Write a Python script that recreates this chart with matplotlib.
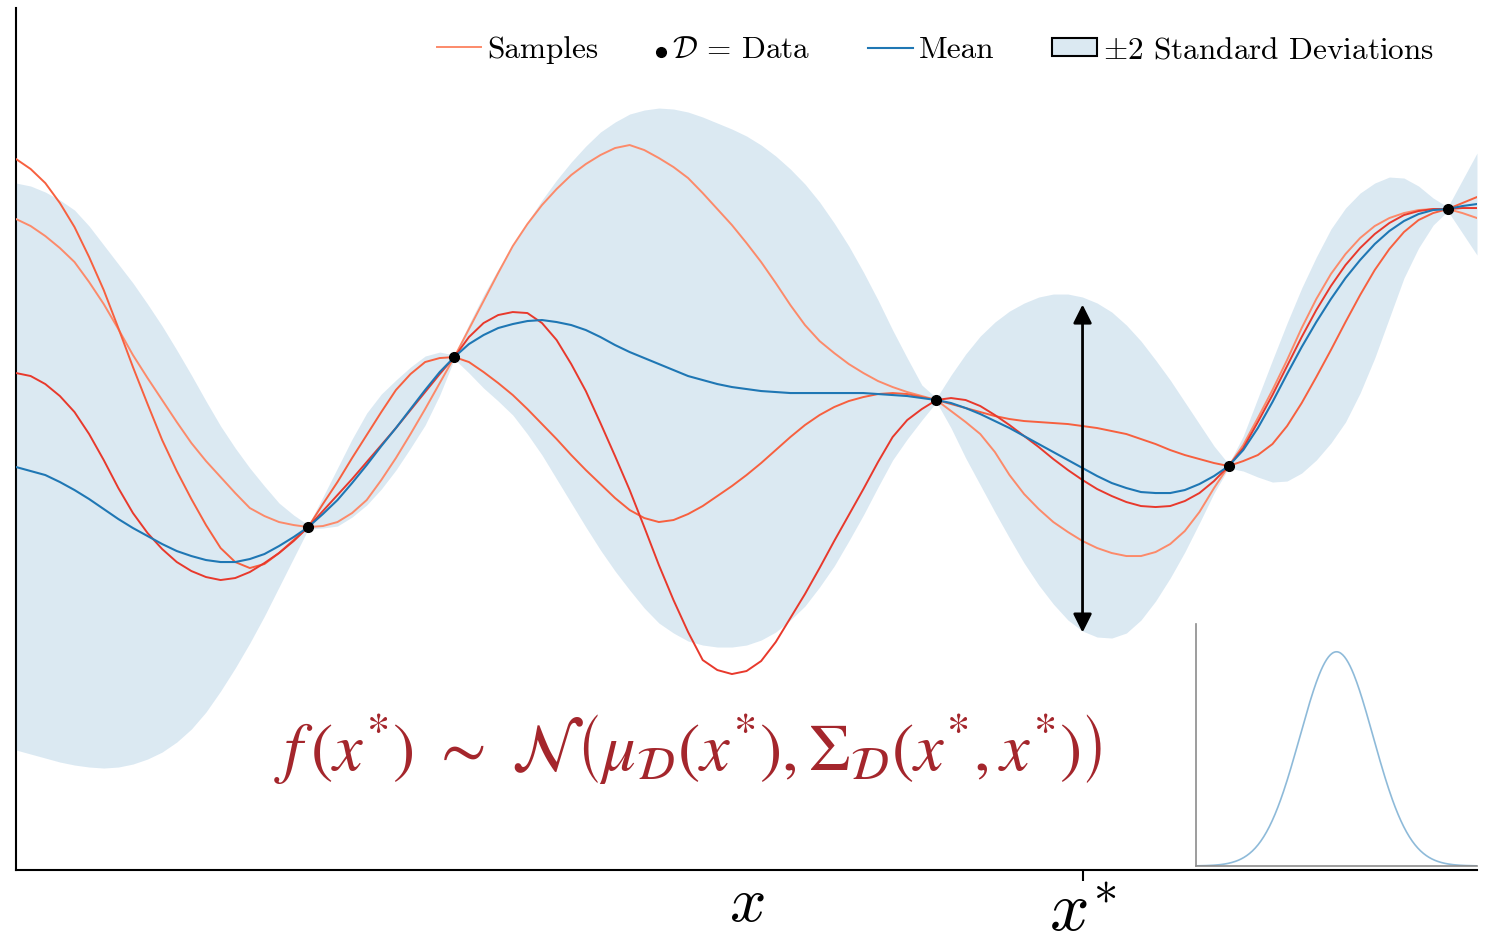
import numpy as np
import matplotlib.pyplot as plt
from matplotlib.lines import Line2D
from matplotlib.patches import Patch
from matplotlib.colors import to_rgba

plt.rcParams['font.family'] = 'cmr10'
plt.rcParams['mathtext.fontset'] = 'cm'
plt.rcParams['axes.formatter.use_mathtext'] = True

x = np.round(np.arange(101) * 0.1, 1)

mean = [4.03, 3.99, 3.95, 3.88, 3.80, 3.71, 3.61, 3.51, 3.42, 3.34,
        3.26, 3.19, 3.14, 3.10, 3.08, 3.08, 3.11, 3.16, 3.24, 3.33,
        3.43, 3.56, 3.70, 3.87, 4.05, 4.24, 4.42, 4.61, 4.80, 4.98,
        5.13, 5.26, 5.35, 5.42, 5.46, 5.49, 5.50, 5.48, 5.45, 5.40,
        5.33, 5.25, 5.18, 5.12, 5.06, 5.00, 4.94, 4.90, 4.86, 4.83,
        4.81, 4.79, 4.78, 4.77, 4.77, 4.77, 4.77, 4.77, 4.77, 4.76,
        4.75, 4.74, 4.72, 4.70, 4.67, 4.62, 4.56, 4.49, 4.42, 4.34,
        4.26, 4.18, 4.10, 4.02, 3.94, 3.87, 3.82, 3.78, 3.77, 3.77,
        3.80, 3.86, 3.94, 4.04, 4.20, 4.42, 4.68, 4.96, 5.23, 5.48,
        5.71, 5.92, 6.10, 6.26, 6.39, 6.49, 6.56, 6.60, 6.61, 6.64,
        6.66]

upper = [6.87, 6.84, 6.78, 6.70, 6.60, 6.44, 6.25, 6.06, 5.87, 5.66,
         5.44, 5.20, 4.95, 4.69, 4.44, 4.22, 4.02, 3.84, 3.67, 3.55,
         3.45, 3.73, 4.02, 4.31, 4.57, 4.76, 4.90, 5.03, 5.14, 5.18,
         5.15, 5.46, 5.75, 6.01, 6.25, 6.48, 6.70, 6.90, 7.08, 7.24,
         7.38, 7.48, 7.56, 7.60, 7.62, 7.61, 7.58, 7.53, 7.47, 7.41,
         7.34, 7.25, 7.14, 7.01, 6.86, 6.68, 6.47, 6.24, 5.98, 5.70,
         5.40, 5.12, 4.85, 4.72, 4.95, 5.16, 5.34, 5.48, 5.59, 5.67,
         5.73, 5.76, 5.76, 5.73, 5.67, 5.58, 5.45, 5.29, 5.10, 4.90,
         4.68, 4.46, 4.24, 4.06, 4.34, 4.72, 5.10, 5.47, 5.82, 6.13,
         6.41, 6.62, 6.77, 6.87, 6.93, 6.92, 6.84, 6.72, 6.63, 6.90,
         7.17]

lower = [1.20, 1.16, 1.12, 1.08, 1.05, 1.03, 1.02, 1.03, 1.06, 1.11,
         1.18, 1.28, 1.41, 1.58, 1.79, 2.02, 2.27, 2.54, 2.83, 3.12,
         3.41, 3.42, 3.44, 3.53, 3.65, 3.81, 4.00, 4.22, 4.45, 4.75,
         5.11, 4.97, 4.82, 4.69, 4.55, 4.36, 4.15, 3.91, 3.67, 3.43,
         3.20, 2.99, 2.80, 2.62, 2.47, 2.37, 2.29, 2.25, 2.23, 2.23,
         2.25, 2.30, 2.38, 2.50, 2.64, 2.83, 3.04, 3.29, 3.55, 3.83,
         4.10, 4.31, 4.50, 4.68, 4.42, 4.12, 3.85, 3.58, 3.32, 3.07,
         2.85, 2.66, 2.50, 2.39, 2.33, 2.32, 2.37, 2.50, 2.69, 2.92,
         3.18, 3.47, 3.77, 4.02, 3.99, 3.93, 3.88, 3.89, 3.97, 4.10,
         4.27, 4.48, 4.77, 5.12, 5.52, 5.92, 6.22, 6.45, 6.59, 6.37,
         6.15]

sample_a = [6.51, 6.44, 6.34, 6.22, 6.08, 5.88, 5.66, 5.41, 5.15, 4.92,
            4.70, 4.48, 4.27, 4.09, 3.93, 3.77, 3.62, 3.54, 3.48, 3.45,
            3.43, 3.44, 3.48, 3.57, 3.70, 3.90, 4.12, 4.36, 4.61, 4.87,
            5.13, 5.41, 5.69, 5.97, 6.24, 6.46, 6.65, 6.81, 6.95, 7.06,
            7.15, 7.22, 7.25, 7.20, 7.12, 7.03, 6.92, 6.77, 6.61, 6.45,
            6.27, 6.08, 5.87, 5.65, 5.45, 5.29, 5.17, 5.06, 4.97, 4.89,
            4.83, 4.78, 4.74, 4.70, 4.59, 4.48, 4.36, 4.18, 3.95, 3.76,
            3.61, 3.48, 3.38, 3.29, 3.22, 3.17, 3.14, 3.14, 3.18, 3.26,
            3.39, 3.58, 3.82, 4.04, 4.25, 4.52, 4.80, 5.10, 5.42, 5.71,
            5.96, 6.16, 6.32, 6.44, 6.52, 6.57, 6.60, 6.61, 6.61, 6.57,
            6.52]

sample_b = [7.11, 7.01, 6.87, 6.67, 6.43, 6.13, 5.80, 5.42, 5.03, 4.66,
            4.30, 3.99, 3.71, 3.45, 3.22, 3.08, 3.02, 3.06, 3.17, 3.30,
            3.43, 3.66, 3.88, 4.12, 4.35, 4.58, 4.80, 4.96, 5.08, 5.12,
            5.13, 5.08, 4.98, 4.87, 4.75, 4.61, 4.46, 4.31, 4.15, 4.00,
            3.86, 3.72, 3.60, 3.52, 3.48, 3.50, 3.56, 3.64, 3.74, 3.84,
            3.95, 4.07, 4.20, 4.33, 4.45, 4.55, 4.63, 4.69, 4.73, 4.76,
            4.77, 4.76, 4.73, 4.70, 4.66, 4.62, 4.58, 4.54, 4.51, 4.49,
            4.48, 4.47, 4.46, 4.44, 4.42, 4.39, 4.36, 4.31, 4.26, 4.20,
            4.15, 4.11, 4.07, 4.04, 4.09, 4.15, 4.26, 4.44, 4.67, 4.93,
            5.20, 5.48, 5.75, 6.00, 6.21, 6.38, 6.50, 6.57, 6.61, 6.67,
            6.73]

sample_c = [4.97, 4.94, 4.86, 4.74, 4.58, 4.36, 4.10, 3.82, 3.57, 3.37,
            3.21, 3.08, 2.99, 2.93, 2.90, 2.92, 2.98, 3.07, 3.17, 3.29,
            3.43, 3.59, 3.75, 3.91, 4.08, 4.25, 4.42, 4.60, 4.78, 4.96,
            5.13, 5.33, 5.47, 5.55, 5.58, 5.57, 5.47, 5.30, 5.06, 4.79,
            4.47, 4.14, 3.80, 3.43, 3.05, 2.70, 2.38, 2.10, 2.00, 1.96,
            1.99, 2.09, 2.28, 2.52, 2.76, 3.02, 3.29, 3.55, 3.81, 4.08,
            4.33, 4.50, 4.61, 4.70, 4.72, 4.70, 4.64, 4.55, 4.45, 4.34,
            4.23, 4.11, 4.00, 3.90, 3.81, 3.74, 3.68, 3.64, 3.63, 3.64,
            3.69, 3.77, 3.89, 4.04, 4.22, 4.48, 4.75, 5.04, 5.33, 5.60,
            5.84, 6.05, 6.22, 6.36, 6.47, 6.55, 6.59, 6.61, 6.61, 6.62,
            6.62]

samples = [sample_a, sample_b, sample_c]
sample_colors = ['#fc8a6a', '#f7603f', '#e8392c']

x_data = [2.0, 3.0, 6.3, 8.3, 9.8]
y_data = [3.43, 5.13, 4.70, 4.04, 6.61]

x_star = 7.3
mu_star = 4.015
sd_star = 0.82

blue = '#1f77b4'
band_color = to_rgba(blue, 0.16)

fig = plt.figure(figsize=(14.88, 9.46), dpi=100)
ax = fig.add_axes([0.0108, 0.0803, 0.9818, 0.9112])

ax.fill_between(x, lower, upper, color=band_color, lw=0, zorder=3)
for ys, c in zip(samples, sample_colors):
    ax.plot(x, ys, color=c, lw=1.4, zorder=4)
ax.plot(x, mean, color=blue, lw=1.5, zorder=4)
ax.plot(x_data, y_data, 'o', color='black', ms=7, zorder=6)

ax.annotate('', xy=(x_star, mu_star - 2 * sd_star), xytext=(x_star, mu_star + 2 * sd_star),
            arrowprops=dict(arrowstyle='<|-|>', color='black', lw=2, mutation_scale=28,
                            shrinkA=0, shrinkB=0), zorder=5)

ax.text(4.6, 1.2, r'$f\,(x^{*})\ \sim\ \mathcal{N}\left(\mu_{\mathcal{D}}(x^{*}), \Sigma_{\mathcal{D}}(x^{*}, x^{*})\right)$',
        color='#a4262c', fontsize=48, ha='center', va='center', math_fontfamily='stix', zorder=5)

ax.set_xlim(0, 10)
ax.set_ylim(0, 8.62)
ax.spines[['top', 'right']].set_visible(False)
for s in ['left', 'bottom']:
    ax.spines[s].set_linewidth(1.5)
    ax.spines[s].set_zorder(2)
ax.set_yticks([])
ax.set_xticks([x_star])
ax.set_xticklabels([r'$x^{\ast}$'])
ax.tick_params(axis='x', length=8, width=1.5, labelsize=50, pad=1)
ax.set_xlabel(r'$x$', fontsize=46)
ax.xaxis.set_label_coords(0.5, -0.007)


class DotAtRight:
    def legend_artist(self, legend, orig_handle, fontsize, handlebox):
        x0, y0 = handlebox.xdescent, handlebox.ydescent
        w, h = handlebox.width, handlebox.height
        dot = Line2D([x0 + w - 0.17 * fontsize], [y0 + h / 2], ls='none', marker='o',
                     color='black', ms=7, transform=handlebox.get_transform())
        handlebox.add_artist(dot)
        return dot


leg_kw = dict(frameon=False, fontsize=22.5, handlelength=1.42, handletextpad=0.2,
              borderpad=0, borderaxespad=0, loc='center right')
samples_handle = Line2D([], [], color=sample_colors[0], lw=1.4)
leg1 = ax.legend([samples_handle], ['Samples'], bbox_to_anchor=(0.399, 0.951), **leg_kw)
ax.add_artist(leg1)

data_handle = Line2D([], [], ls='none', marker='o', color='black')
mean_handle = Line2D([], [], color=blue, lw=1.5)
band_handle = Patch(facecolor=band_color, edgecolor='black', lw=1.5)
ax.legend([data_handle, mean_handle, band_handle],
          [r'$\mathcal{D}$ = Data', 'Mean', r'$\pm$2 Standard Deviations'],
          ncol=3, columnspacing=1.85, handleheight=0.5, bbox_to_anchor=(0.9706, 0.951),
          handler_map={data_handle: DotAtRight()}, **leg_kw)

# density of f(x*) in the corner
ins = fig.add_axes([0.8038, 0.0846, 0.1888, 0.2558])
g = np.linspace(mu_star - 3.85 * sd_star, mu_star + 3.85 * sd_star, 300)
dens = np.exp(-0.5 * ((g - mu_star) / sd_star) ** 2) / (sd_star * np.sqrt(2 * np.pi))
ins.plot(g, dens, color=blue, alpha=0.5, lw=1.2)
ins.set_xlim(g[0], g[-1])
ins.set_ylim(0, dens.max() / 0.885)
ins.set_xticks([])
ins.set_yticks([])
ins.patch.set_alpha(0)
ins.spines[['top', 'right']].set_visible(False)
for s in ['left', 'bottom']:
    ins.spines[s].set_color('#8c8c8c')
    ins.spines[s].set_linewidth(1.2)

fig.savefig('out.png', dpi=100)
